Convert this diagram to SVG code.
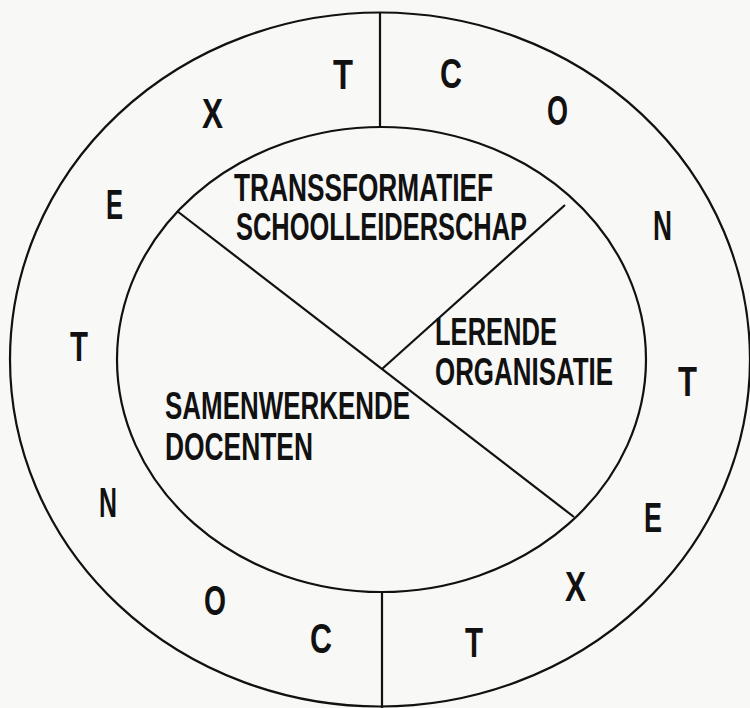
<svg xmlns="http://www.w3.org/2000/svg" width="750" height="708" viewBox="0 0 750 708">
<style>
.bg{fill:#f8f8f6}
.ln{fill:none;stroke:#111;stroke-width:2.2}
.lbl{font-family:"Liberation Sans",Arial,sans-serif;font-weight:bold;font-size:38px;fill:#111}
.ch{font-family:"Liberation Sans",Arial,sans-serif;font-weight:bold;font-size:43px;fill:#111}
</style>
<rect class="bg" x="0" y="0" width="750" height="708"/>
<g id="context-ring">
<ellipse class="ln" cx="380" cy="359.5" rx="370" ry="347"/>
<g id="context-letters">
<text class="ch" x="333" y="89" textLength="20" lengthAdjust="spacingAndGlyphs">T</text>
<text class="ch" x="202" y="128" textLength="21" lengthAdjust="spacingAndGlyphs">X</text>
<text class="ch" x="106" y="219" textLength="17" lengthAdjust="spacingAndGlyphs">E</text>
<text class="ch" x="70" y="361" textLength="18" lengthAdjust="spacingAndGlyphs">T</text>
<text class="ch" x="99" y="517" textLength="18" lengthAdjust="spacingAndGlyphs">N</text>
<text class="ch" x="204" y="615" textLength="22" lengthAdjust="spacingAndGlyphs">O</text>
<text class="ch" x="310" y="653" textLength="22" lengthAdjust="spacingAndGlyphs">C</text>
<text class="ch" x="465" y="657" textLength="18" lengthAdjust="spacingAndGlyphs">T</text>
<text class="ch" x="565" y="601" textLength="21" lengthAdjust="spacingAndGlyphs">X</text>
<text class="ch" x="644" y="532" textLength="18" lengthAdjust="spacingAndGlyphs">E</text>
<text class="ch" x="678" y="396" textLength="19" lengthAdjust="spacingAndGlyphs">T</text>
<text class="ch" x="653" y="240" textLength="19" lengthAdjust="spacingAndGlyphs">N</text>
<text class="ch" x="547" y="125" textLength="21" lengthAdjust="spacingAndGlyphs">O</text>
<text class="ch" x="440" y="88" textLength="22" lengthAdjust="spacingAndGlyphs">C</text>
</g>
</g>
<g id="core">
<ellipse class="ln" cx="381.5" cy="359.5" rx="264.5" ry="232.5"/>
</g>
<g id="connectors">
<line class="ln" x1="380" y1="12" x2="380" y2="127"/>
<line class="ln" x1="382" y1="592" x2="382" y2="708"/>
<line class="ln" x1="177" y1="211" x2="574" y2="517"/>
<line class="ln" x1="382" y1="369" x2="565" y2="205"/>
</g>
<g id="transformatief-schoolleiderschap">
<text class="lbl" x="234" y="201" textLength="259" lengthAdjust="spacingAndGlyphs">TRANSSFORMATIEF</text>
<text class="lbl" x="236" y="240" textLength="291" lengthAdjust="spacingAndGlyphs">SCHOOLLEIDERSCHAP</text>
</g>
<g id="lerende-organisatie">
<text class="lbl" x="435" y="345" textLength="122" lengthAdjust="spacingAndGlyphs">LERENDE</text>
<text class="lbl" x="435" y="385" textLength="178" lengthAdjust="spacingAndGlyphs">ORGANISATIE</text>
</g>
<g id="samenwerkende-docenten">
<text class="lbl" x="165" y="419" textLength="245" lengthAdjust="spacingAndGlyphs">SAMENWERKENDE</text>
<text class="lbl" x="165" y="460" textLength="148" lengthAdjust="spacingAndGlyphs">DOCENTEN</text>
</g>
</svg>
